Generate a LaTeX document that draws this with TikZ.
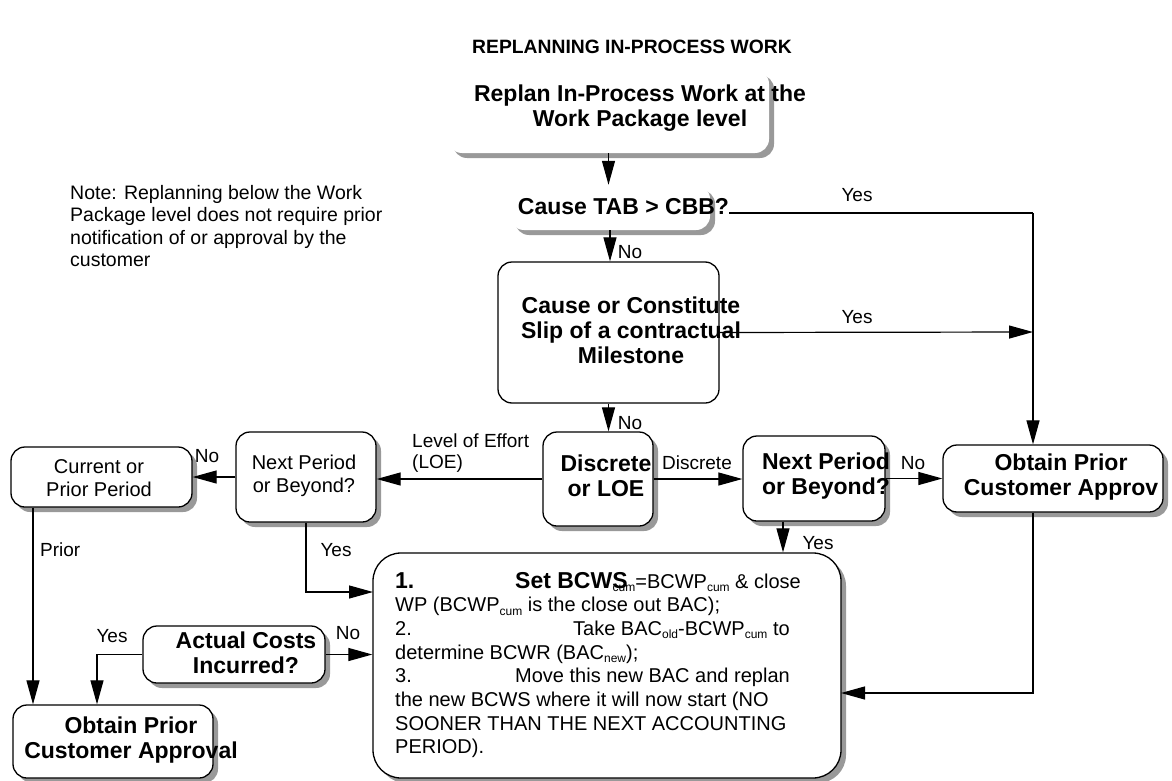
\documentclass[tikz,border=0pt]{standalone}
\usepackage{fontspec}
\setmainfont{Liberation Sans}
\usetikzlibrary{arrows.meta,shadows}

\newcommand{\sbs}[1]{\raisebox{-3.5pt}{\fontsize{12}{12}\selectfont #1}}

\begin{document}
\begin{tikzpicture}[x=1pt, y=-1pt,
  flow/.style={line width=1.2pt, -{Triangle[length=24pt,width=13pt]}},
  link/.style={line width=1.2pt},
  withshadow/.style={drop shadow={shadow xshift=5pt, shadow yshift=-5pt, fill=gray!80, opacity=1}},
  box/.style={draw, line width=1.3pt, fill=white, rounded corners=14pt, inner sep=0pt},
  ghost/.style={fill=white, rounded corners=14pt, inner sep=0pt},
  boldtxt/.style={font=\fontsize{23}{25}\selectfont\bfseries, align=center, inner sep=0pt},
  lbl/.style={font=\fontsize{19}{22}\selectfont, inner sep=0pt}]
  \useasboundingbox (0,0) rectangle (1172,781);

  \node[font=\fontsize{19.3}{22}\selectfont\bfseries] (title) at (632,47) {REPLANNING IN-PROCESS WORK};
  \node[lbl, anchor=west, align=left, font=\fontsize{19.5}{22.5}\selectfont] (note) at (70,226) {Note: Replanning below the Work\\Package level does not require prior\\notification of or approval by the\\customer};

  % boxes
  \node[ghost, withshadow, minimum width=321pt, minimum height=83pt] (replan) at (608.5,111.5) {};
  \node[ghost, withshadow, minimum width=200pt, minimum height=45pt] (causetab) at (610,207.5) {};
  \node[box, minimum width=221pt, minimum height=141pt] (milestone) at (608.5,332.5) {};
  \node[box, withshadow, minimum width=110pt, minimum height=94pt] (discrete) at (598,479) {};
  \node[box, withshadow, minimum width=142pt, minimum height=85pt] (nextR) at (814,478.5) {};
  \node[box, withshadow, minimum width=220pt, minimum height=67pt] (obtainR) at (1053,478.5) {};
  \node[box, withshadow, minimum width=140pt, minimum height=90pt] (nextL) at (306,477) {};
  \node[box, withshadow, minimum width=181pt, minimum height=60pt] (current) at (101.5,477) {};
  \node[box, withshadow, rounded corners=28pt, minimum width=468pt, minimum height=225pt] (bcws) at (607,665.5) {};
  \node[box, withshadow, minimum width=182pt, minimum height=57pt] (actual) at (234,654.5) {};
  \node[box, withshadow, minimum width=200pt, minimum height=73pt] (obtainL) at (113,741.5) {};

  % box texts
  \node[boldtxt] (replan-t) at (640,108.5) {Replan In-Process Work at the\\Work Package level};
  \node[boldtxt] (causetab-t) at (623.5,207) {Cause TAB > CBB?};
  \node[boldtxt] (milestone-t) at (631,330) {Cause or Constitute\\Slip of a contractual\\Milestone};
  \node[boldtxt] (discrete-t) at (606,476) {Discrete\\or LOE};
  \node[boldtxt] (nextR-t) at (826,476) {Next Period\\or Beyond?};
  \node[boldtxt] (obtainR-t) at (1061,477) {Obtain Prior\\Customer Approv};
  \node[lbl, align=center, font=\fontsize{20}{23}\selectfont] (nextL-t) at (304,476) {Next Period\\or Beyond?};
  \node[lbl, align=center, font=\fontsize{20}{23}\selectfont] (current-t) at (99,478) {Current or\\Prior Period};
  \node[boldtxt] (actual-t) at (246,653) {Actual Costs\\Incurred?};
  \node[boldtxt] (obtainL-t) at (131,740) {Obtain Prior\\Customer Approval};
  \node[lbl, anchor=west, align=left, font=\fontsize{20}{23.7}\selectfont] (bcws-t) at (395,665) {%
    \makebox[120pt][l]{\bfseries\fontsize{23}{23}\selectfont 1.}{\bfseries\fontsize{23}{23}\selectfont Set BCWS}\hspace{-15pt}\sbs{cum}=BCWP\sbs{cum} \& close\\
    WP (BCWP\sbs{cum} is the close out BAC);\\
    \makebox[178pt][l]{2.}Take BAC\sbs{old}-BCWP\sbs{cum} to\\
    determine BCWR (BAC\sbs{new});\\
    \makebox[120pt][l]{3.}Move this new BAC and replan\\
    the new BCWS where it will now start (NO\\
    SOONER THAN THE NEXT ACCOUNTING\\
    PERIOD).};

  % connectors
  \coordinate (yescorner) at (1033,213);
  \coordinate (yesjoin) at (1033,332);
  \coordinate (bcwsin) at (373,592);
  \coordinate (bcwsback) at (841,693);
  \coordinate (priorX) at (33,0);
  \coordinate (yesX) at (97,0);
  \coordinate (nextX) at (783,0);

  \draw[flow] (replan.south) -- (replan.south |- causetab.north);
  \draw[link] (causetab-t.east |- yescorner) -- (yescorner);
  \draw[flow] (yescorner) -- (yescorner |- obtainR.north);
  \draw[flow] (causetab.south) -- (causetab.south |- milestone.north);
  \draw[flow] (milestone.east) -- (yesjoin);
  \draw[flow] (milestone.south) -- (milestone.south |- discrete.north);
  \draw[flow] (discrete.west) -- (discrete.west -| nextL.east);
  \draw[flow] (nextL.west) -- (nextL.west -| current.east);
  \draw[flow] (priorX |- current.south) -- (priorX |- obtainL.north);
  \draw[flow] (nextL.south) |- (bcwsin);
  \draw[flow] (discrete.east) -- (discrete.east -| nextR.west);
  \draw[flow] (nextR.east) -- (obtainR.west);
  \draw[flow] (nextX |- nextR.south) -- (nextX |- bcws.north);
  \draw[flow] (yescorner |- obtainR.south) |- (bcwsback);
  \draw[flow] (actual.east) -- (actual.east -| bcws.west);
  \draw[flow] (actual.west) -| (yesX |- obtainL.north);

  % labels
  \node[lbl] (yes-tab) at (857,195) {Yes};
  \node[lbl] (yes-slip) at (857,317) {Yes};
  \node[lbl] (no-tab) at (630,252) {No};
  \node[lbl] (no-slip) at (630,423) {No};
  \node[lbl, anchor=west, align=left, font=\fontsize{19}{21}\selectfont] (loe) at (412,453) {Level of Effort\\(LOE)};
  \node[lbl] (no-left) at (207,456) {No};
  \node[lbl] (disc) at (697,463) {Discrete};
  \node[lbl] (no-right) at (913,463) {No};
  \node[lbl] (yes-right) at (818,543) {Yes};
  \node[lbl, anchor=west] (prior) at (40,550) {Prior};
  \node[lbl] (yes-left) at (336,550) {Yes};
  \node[lbl] (yes-cost) at (112,636) {Yes};
  \node[lbl] (no-cost) at (348,633) {No};
\end{tikzpicture}
\end{document}
